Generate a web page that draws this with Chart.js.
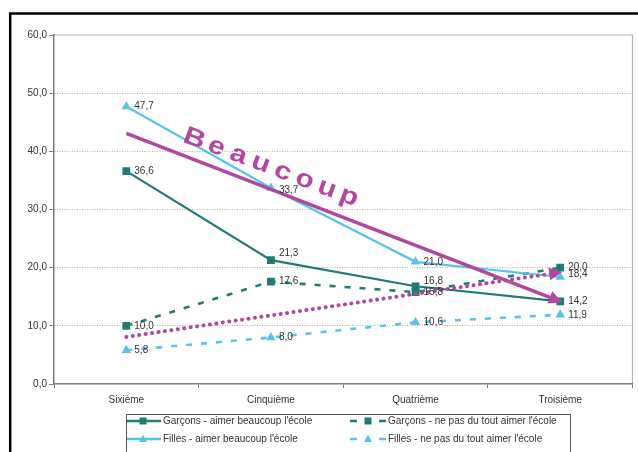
<!DOCTYPE html>
<html><head><meta charset="utf-8">
<script src="https://cdn.jsdelivr.net/npm/chart.js@4.4.0/dist/chart.umd.min.js"></script>
<style>html,body{margin:0;padding:0;background:#fff;}</style>
</head><body>
<canvas id="c" width="638" height="452"></canvas>
<script>
// ---- data ----
const categories = ['Sixième', 'Cinquième', 'Quatrième', 'Troisième'];
const garconsBeaucoup = [36.6, 21.3, 16.8, 14.2];
const fillesBeaucoup = [47.7, 33.7, 21.0, 18.4];
const garconsPasDuTout = [10.0, 17.6, 15.8, 20.0];
const fillesPasDuTout = [5.8, 8.0, 10.6, 11.9];
const tendanceBeaucoup = [43.1, null, null, 14.2];
const tendancePasDuTout = [8.1, null, null, 19.2];
const seriesLabels = [
  "Garçons - aimer beaucoup l'école",
  "Filles - aimer beaucoup l'école",
  "Garçons - ne pas du tout aimer l'école",
  "Filles - ne pas du tout aimer l'école"
];
const yMin = 0, yMax = 60, yStep = 10;
const annotationText = 'Beaucoup';

// ---- style ----
const FONT = "'Liberation Sans', Arial, sans-serif";
const TEAL = '#1f7b76', BLUE = '#58c4ee', MAG = '#b3479f', TXT = '#333333', AXIS = '#7a7a7a';
const fmt = v => v.toFixed(1).replace('.', ',');

const labelNudge = {'0-1': -7, '0-2': -5, '1-3': -3, '1-1': 2};

const decorPlugin = {
  id: 'decor',
  beforeDraw(chart) {
    const ctx = chart.ctx, a = chart.chartArea;
    ctx.save();
    // outer black frame
    ctx.strokeStyle = '#000'; ctx.lineWidth = 2.5;
    ctx.beginPath(); ctx.moveTo(10.2, 460); ctx.lineTo(10.2, 13.5); ctx.lineTo(640, 13.5); ctx.stroke();
    // plot border top/right
    ctx.strokeStyle = '#b5b5b5'; ctx.lineWidth = 1.2;
    ctx.beginPath(); ctx.moveTo(a.left, a.top); ctx.lineTo(a.right, a.top); ctx.lineTo(a.right, a.bottom); ctx.stroke();
    ctx.restore();
  },
  afterDatasetsDraw(chart) {
    const ctx = chart.ctx;
    ctx.save();
    // arrowheads on trend lines
    chart.data.datasets.forEach((ds, i) => {
      if (!ds.trend) return;
      const pts = chart.getDatasetMeta(i).data;
      const p0 = pts[0], p1 = pts[pts.length - 1];
      const ang = Math.atan2(p1.y - p0.y, p1.x - p0.x);
      const L = 13, W = 6.5;
      const tx = p1.x + Math.cos(ang) * 2, ty = p1.y + Math.sin(ang) * 2;
      ctx.fillStyle = MAG;
      ctx.beginPath();
      ctx.moveTo(tx, ty);
      ctx.lineTo(tx - Math.cos(ang) * L - Math.sin(ang) * W, ty - Math.sin(ang) * L + Math.cos(ang) * W);
      ctx.lineTo(tx - Math.cos(ang) * L + Math.sin(ang) * W, ty - Math.sin(ang) * L - Math.cos(ang) * W);
      ctx.closePath(); ctx.fill();
    });
    // value labels
    ctx.font = '10px ' + FONT; ctx.fillStyle = TXT; ctx.textAlign = 'left'; ctx.textBaseline = 'middle';
    chart.data.datasets.forEach((ds, i) => {
      if (!ds.showValues) return;
      chart.getDatasetMeta(i).data.forEach((pt, j) => {
        const dy = labelNudge[i + '-' + j] || 0;
        ctx.fillText(fmt(ds.data[j]), pt.x + 8, pt.y + dy);
      });
    });
    // "Beaucoup" annotation along the trend
    const xs = chart.scales.x, ys = chart.scales.y;
    const sx = xs.getPixelForValue(0) + 68, sy = ys.getPixelForValue(42.5) + 2;
    const ang = 20.5 * Math.PI / 180, step = 23.6;
    ctx.fillStyle = MAG; ctx.font = 'bold 25px ' + FONT; ctx.textAlign = 'center'; ctx.textBaseline = 'middle';
    [...annotationText].forEach((ch, k) => {
      ctx.save();
      ctx.translate(sx + Math.cos(ang) * step * k, sy + Math.sin(ang) * step * k);
      ctx.rotate(ang);
      ctx.scale(1.2, 1);
      ctx.fillText(ch, 0, 0);
      ctx.restore();
    });
    ctx.restore();
  },
  afterDraw(chart) {
    const ctx = chart.ctx;
    ctx.save();
    // legend box
    ctx.strokeStyle = '#555'; ctx.lineWidth = 1;
    ctx.strokeRect(126.5, 414.5, 444, 45);
    const entries = [
      {i: 0, x: 127, y: 421, dashed: false},
      {i: 2, x: 349, y: 421, dashed: true},
      {i: 1, x: 127, y: 439, dashed: false},
      {i: 3, x: 349, y: 439, dashed: true}
    ];
    entries.forEach(e => {
      const ds = chart.data.datasets[e.i];
      ctx.strokeStyle = ds.borderColor; ctx.fillStyle = ds.borderColor; ctx.lineWidth = 2.5;
      let mx, tx;
      if (!e.dashed) {
        ctx.beginPath(); ctx.moveTo(e.x, e.y); ctx.lineTo(e.x + 34, e.y); ctx.stroke();
        mx = e.x + 16; tx = e.x + 36;
      } else {
        ctx.beginPath(); ctx.moveTo(e.x + 1, e.y); ctx.lineTo(e.x + 8, e.y);
        ctx.moveTo(e.x + 30, e.y); ctx.lineTo(e.x + 37, e.y); ctx.stroke();
        mx = e.x + 19; tx = e.x + 39;
      }
      ctx.beginPath();
      if (ds.pointStyle === 'rect') { ctx.rect(mx - 3.5, e.y - 3.5, 7, 7); }
      else { ctx.moveTo(mx, e.y - 4.5); ctx.lineTo(mx + 4, e.y + 3); ctx.lineTo(mx - 4, e.y + 3); ctx.closePath(); }
      ctx.fill();
      ctx.fillStyle = TXT; ctx.font = '10px ' + FONT; ctx.textAlign = 'left'; ctx.textBaseline = 'middle';
      ctx.fillText(ds.label, tx, e.y);
    });
    ctx.restore();
  }
};

new Chart(document.getElementById('c'), {
  type: 'line',
  data: {
    labels: categories,
    datasets: [
      {label: seriesLabels[0], data: garconsBeaucoup, borderColor: TEAL, backgroundColor: TEAL, borderWidth: 2.2,
       pointStyle: 'rect', pointRadius: 5.5, pointBorderWidth: 0, showValues: true, order: 1},
      {label: seriesLabels[1], data: fillesBeaucoup, borderColor: BLUE, backgroundColor: BLUE, borderWidth: 2.2,
       pointStyle: 'triangle', pointRadius: 5.5, pointBorderWidth: 0, showValues: true, order: 1},
      {label: seriesLabels[2], data: garconsPasDuTout, borderColor: TEAL, backgroundColor: TEAL, borderWidth: 2.6,
       borderDash: [6, 9], pointStyle: 'rect', pointRadius: 5.5, pointBorderWidth: 0, showValues: true, order: 1},
      {label: seriesLabels[3], data: fillesPasDuTout, borderColor: BLUE, backgroundColor: BLUE, borderWidth: 2.6,
       borderDash: [6, 9], pointStyle: 'triangle', pointRadius: 5.5, pointBorderWidth: 0, showValues: true, order: 1},
      {label: 'tendance beaucoup', data: tendanceBeaucoup, borderColor: MAG, borderWidth: 3.5, pointRadius: 0,
       spanGaps: true, trend: true, order: 0},
      {label: 'tendance pas du tout', data: tendancePasDuTout, borderColor: MAG, borderWidth: 4, pointRadius: 0,
       borderDash: [0.1, 6.4], borderCapStyle: 'round', spanGaps: true, trend: true, order: 0}
    ]
  },
  options: {
    responsive: false,
    animation: false,
    layout: {padding: {top: 35, right: 5, left: 0, bottom: 0}},
    plugins: {legend: {display: false}, tooltip: {enabled: false}},
    elements: {line: {tension: 0}},
    scales: {
      x: {
        offset: true,
        afterFit: s => { s.height = 68; },
        grid: {offset: true, drawOnChartArea: false, tickLength: 4, tickColor: AXIS, lineWidth: 1},
        border: {color: AXIS, width: 1.5},
        ticks: {color: TXT, font: {family: FONT, size: 10}, padding: 6, maxRotation: 0}
      },
      y: {
        min: yMin, max: yMax,
        afterFit: s => { s.width = 54; },
        grid: {
          color: c => (c.tick && (c.tick.value === yMin || c.tick.value === yMax)) ? 'rgba(0,0,0,0)' : '#c9a59a',
          lineWidth: 1, tickLength: 5, tickColor: AXIS, tickBorderDash: []
        },
        border: {color: AXIS, width: 1.5, dash: [1, 1.5]},
        ticks: {stepSize: yStep, color: TXT, font: {family: FONT, size: 10}, padding: 2, callback: v => fmt(v)}
      }
    }
  },
  plugins: [decorPlugin]
});
</script>
</body></html>
